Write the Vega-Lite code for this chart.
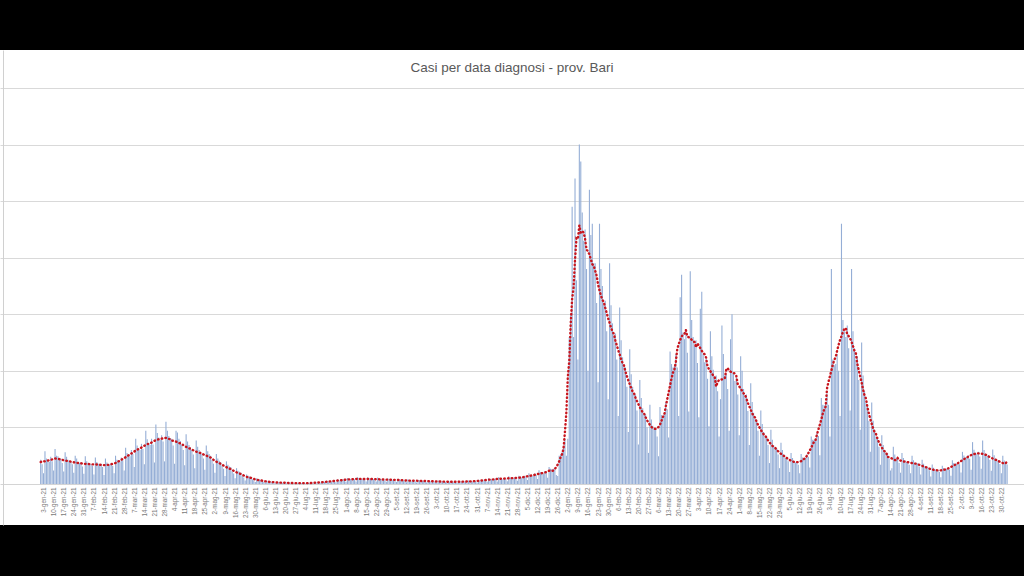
{
"$schema": "https://vega.github.io/schema/vega-lite/v6.json",
"width": 1024, "height": 475,
"autosize": {"type": "none"},
"padding": {"left": 0, "right": 0, "top": 50, "bottom": 51},
"background": "black",
"title": {"text": "Casi per data diagnosi - prov. Bari", "font": "Liberation Sans", "fontSize": 13.5, "fontWeight": "normal", "color": "#595959", "anchor": "middle", "frame": "group", "baseline": "middle", "offset": 0, "dy": 31},
"config": {
 "view": {"fill": "white", "stroke": null},
 "locale": {"time": {"dateTime": "%A %e %B %Y, %X", "date": "%d/%m/%Y", "time": "%H:%M:%S", "periods": ["AM", "PM"], "days": ["Domenica", "Lunedì", "Martedì", "Mercoledì", "Giovedì", "Venerdì", "Sabato"], "shortDays": ["Dom", "Lun", "Mar", "Mer", "Gio", "Ven", "Sab"], "months": ["Gennaio", "Febbraio", "Marzo", "Aprile", "Maggio", "Giugno", "Luglio", "Agosto", "Settembre", "Ottobre", "Novembre", "Dicembre"], "shortMonths": ["gen", "feb", "mar", "apr", "mag", "giu", "lug", "ago", "set", "ott", "nov", "dic"]}}
},
"data": {"values": [
{"d":"2021-01-01","v":215},{"d":"2021-01-02","v":175},{"d":"2021-01-03","v":95},{"d":"2021-01-04","v":290},{"d":"2021-01-05","v":225},{"d":"2021-01-06","v":205},{"d":"2021-01-07","v":195},{"d":"2021-01-08","v":240},{"d":"2021-01-09","v":200},{"d":"2021-01-10","v":120},{"d":"2021-01-11","v":310},{"d":"2021-01-12","v":250},{"d":"2021-01-13","v":245},{"d":"2021-01-14","v":215},{"d":"2021-01-15","v":225},{"d":"2021-01-16","v":185},{"d":"2021-01-17","v":110},{"d":"2021-01-18","v":280},{"d":"2021-01-19","v":240},{"d":"2021-01-20","v":215},{"d":"2021-01-21","v":205},{"d":"2021-01-22","v":195},{"d":"2021-01-23","v":175},{"d":"2021-01-24","v":100},{"d":"2021-01-25","v":250},{"d":"2021-01-26","v":225},{"d":"2021-01-27","v":195},{"d":"2021-01-28","v":185},{"d":"2021-01-29","v":190},{"d":"2021-01-30","v":155},{"d":"2021-01-31","v":90},
{"d":"2021-02-01","v":245},{"d":"2021-02-02","v":200},{"d":"2021-02-03","v":185},{"d":"2021-02-04","v":180},{"d":"2021-02-05","v":175},{"d":"2021-02-06","v":160},{"d":"2021-02-07","v":85},{"d":"2021-02-08","v":235},{"d":"2021-02-09","v":195},{"d":"2021-02-10","v":180},{"d":"2021-02-11","v":170},{"d":"2021-02-12","v":180},{"d":"2021-02-13","v":150},{"d":"2021-02-14","v":80},{"d":"2021-02-15","v":225},{"d":"2021-02-16","v":190},{"d":"2021-02-17","v":175},{"d":"2021-02-18","v":170},{"d":"2021-02-19","v":185},{"d":"2021-02-20","v":160},{"d":"2021-02-21","v":95},{"d":"2021-02-22","v":250},{"d":"2021-02-23","v":215},{"d":"2021-02-24","v":200},{"d":"2021-02-25","v":195},{"d":"2021-02-26","v":235},{"d":"2021-02-27","v":210},{"d":"2021-02-28","v":120},
{"d":"2021-03-01","v":320},{"d":"2021-03-02","v":275},{"d":"2021-03-03","v":250},{"d":"2021-03-04","v":245},{"d":"2021-03-05","v":300},{"d":"2021-03-06","v":265},{"d":"2021-03-07","v":150},{"d":"2021-03-08","v":400},{"d":"2021-03-09","v":340},{"d":"2021-03-10","v":310},{"d":"2021-03-11","v":300},{"d":"2021-03-12","v":355},{"d":"2021-03-13","v":310},{"d":"2021-03-14","v":175},{"d":"2021-03-15","v":470},{"d":"2021-03-16","v":395},{"d":"2021-03-17","v":360},{"d":"2021-03-18","v":345},{"d":"2021-03-19","v":400},{"d":"2021-03-20","v":350},{"d":"2021-03-21","v":190},{"d":"2021-03-22","v":525},{"d":"2021-03-23","v":450},{"d":"2021-03-24","v":410},{"d":"2021-03-25","v":390},{"d":"2021-03-26","v":430},{"d":"2021-03-27","v":375},{"d":"2021-03-28","v":200},{"d":"2021-03-29","v":550},{"d":"2021-03-30","v":470},{"d":"2021-03-31","v":425},
{"d":"2021-04-01","v":405},{"d":"2021-04-02","v":400},{"d":"2021-04-03","v":340},{"d":"2021-04-04","v":180},{"d":"2021-04-05","v":470},{"d":"2021-04-06","v":455},{"d":"2021-04-07","v":400},{"d":"2021-04-08","v":380},{"d":"2021-04-09","v":345},{"d":"2021-04-10","v":300},{"d":"2021-04-11","v":165},{"d":"2021-04-12","v":440},{"d":"2021-04-13","v":375},{"d":"2021-04-14","v":345},{"d":"2021-04-15","v":325},{"d":"2021-04-16","v":300},{"d":"2021-04-17","v":260},{"d":"2021-04-18","v":140},{"d":"2021-04-19","v":385},{"d":"2021-04-20","v":330},{"d":"2021-04-21","v":300},{"d":"2021-04-22","v":285},{"d":"2021-04-23","v":265},{"d":"2021-04-24","v":225},{"d":"2021-04-25","v":125},{"d":"2021-04-26","v":340},{"d":"2021-04-27","v":290},{"d":"2021-04-28","v":265},{"d":"2021-04-29","v":250},{"d":"2021-04-30","v":215},
{"d":"2021-05-01","v":180},{"d":"2021-05-02","v":100},{"d":"2021-05-03","v":265},{"d":"2021-05-04","v":225},{"d":"2021-05-05","v":205},{"d":"2021-05-06","v":195},{"d":"2021-05-07","v":160},{"d":"2021-05-08","v":135},{"d":"2021-05-09","v":70},{"d":"2021-05-10","v":200},{"d":"2021-05-11","v":170},{"d":"2021-05-12","v":155},{"d":"2021-05-13","v":150},{"d":"2021-05-14","v":112},{"d":"2021-05-15","v":93},{"d":"2021-05-16","v":50},{"d":"2021-05-17","v":140},{"d":"2021-05-18","v":118},{"d":"2021-05-19","v":108},{"d":"2021-05-20","v":100},{"d":"2021-05-21","v":70},{"d":"2021-05-22","v":58},{"d":"2021-05-23","v":30},{"d":"2021-05-24","v":85},{"d":"2021-05-25","v":74},{"d":"2021-05-26","v":66},{"d":"2021-05-27","v":62},{"d":"2021-05-28","v":42},{"d":"2021-05-29","v":33},{"d":"2021-05-30","v":18},{"d":"2021-05-31","v":50},
{"d":"2021-06-01","v":44},{"d":"2021-06-02","v":39},{"d":"2021-06-03","v":36},{"d":"2021-06-04","v":24},{"d":"2021-06-05","v":19},{"d":"2021-06-06","v":10},{"d":"2021-06-07","v":29},{"d":"2021-06-08","v":25},{"d":"2021-06-09","v":22},{"d":"2021-06-10","v":20},{"d":"2021-06-11","v":15},{"d":"2021-06-12","v":12},{"d":"2021-06-13","v":7},{"d":"2021-06-14","v":18},{"d":"2021-06-15","v":16},{"d":"2021-06-16","v":14},{"d":"2021-06-17","v":13},{"d":"2021-06-18","v":10},{"d":"2021-06-19","v":9},{"d":"2021-06-20","v":5},{"d":"2021-06-21","v":13},{"d":"2021-06-22","v":12},{"d":"2021-06-23","v":10},{"d":"2021-06-24","v":9},{"d":"2021-06-25","v":8},{"d":"2021-06-26","v":7},{"d":"2021-06-27","v":4},{"d":"2021-06-28","v":11},{"d":"2021-06-29","v":9},{"d":"2021-06-30","v":8},
{"d":"2021-07-01","v":8},{"d":"2021-07-02","v":9},{"d":"2021-07-03","v":7},{"d":"2021-07-04","v":4},{"d":"2021-07-05","v":10},{"d":"2021-07-06","v":9},{"d":"2021-07-07","v":8},{"d":"2021-07-08","v":8},{"d":"2021-07-09","v":12},{"d":"2021-07-10","v":11},{"d":"2021-07-11","v":6},{"d":"2021-07-12","v":16},{"d":"2021-07-13","v":14},{"d":"2021-07-14","v":13},{"d":"2021-07-15","v":13},{"d":"2021-07-16","v":21},{"d":"2021-07-17","v":18},{"d":"2021-07-18","v":10},{"d":"2021-07-19","v":27},{"d":"2021-07-20","v":23},{"d":"2021-07-21","v":21},{"d":"2021-07-22","v":20},{"d":"2021-07-23","v":32},{"d":"2021-07-24","v":27},{"d":"2021-07-25","v":15},{"d":"2021-07-26","v":41},{"d":"2021-07-27","v":35},{"d":"2021-07-28","v":32},{"d":"2021-07-29","v":30},{"d":"2021-07-30","v":42},{"d":"2021-07-31","v":36},
{"d":"2021-08-01","v":20},{"d":"2021-08-02","v":54},{"d":"2021-08-03","v":46},{"d":"2021-08-04","v":42},{"d":"2021-08-05","v":40},{"d":"2021-08-06","v":47},{"d":"2021-08-07","v":41},{"d":"2021-08-08","v":23},{"d":"2021-08-09","v":61},{"d":"2021-08-10","v":52},{"d":"2021-08-11","v":47},{"d":"2021-08-12","v":45},{"d":"2021-08-13","v":48},{"d":"2021-08-14","v":40},{"d":"2021-08-15","v":22},{"d":"2021-08-16","v":60},{"d":"2021-08-17","v":51},{"d":"2021-08-18","v":48},{"d":"2021-08-19","v":44},{"d":"2021-08-20","v":44},{"d":"2021-08-21","v":38},{"d":"2021-08-22","v":21},{"d":"2021-08-23","v":57},{"d":"2021-08-24","v":48},{"d":"2021-08-25","v":44},{"d":"2021-08-26","v":42},{"d":"2021-08-27","v":40},{"d":"2021-08-28","v":34},{"d":"2021-08-29","v":19},{"d":"2021-08-30","v":51},{"d":"2021-08-31","v":44},
{"d":"2021-09-01","v":40},{"d":"2021-09-02","v":38},{"d":"2021-09-03","v":37},{"d":"2021-09-04","v":32},{"d":"2021-09-05","v":18},{"d":"2021-09-06","v":47},{"d":"2021-09-07","v":40},{"d":"2021-09-08","v":37},{"d":"2021-09-09","v":35},{"d":"2021-09-10","v":32},{"d":"2021-09-11","v":27},{"d":"2021-09-12","v":15},{"d":"2021-09-13","v":41},{"d":"2021-09-14","v":35},{"d":"2021-09-15","v":32},{"d":"2021-09-16","v":30},{"d":"2021-09-17","v":29},{"d":"2021-09-18","v":25},{"d":"2021-09-19","v":14},{"d":"2021-09-20","v":38},{"d":"2021-09-21","v":32},{"d":"2021-09-22","v":29},{"d":"2021-09-23","v":28},{"d":"2021-09-24","v":26},{"d":"2021-09-25","v":23},{"d":"2021-09-26","v":13},{"d":"2021-09-27","v":34},{"d":"2021-09-28","v":29},{"d":"2021-09-29","v":26},{"d":"2021-09-30","v":25},
{"d":"2021-10-01","v":23},{"d":"2021-10-02","v":20},{"d":"2021-10-03","v":11},{"d":"2021-10-04","v":30},{"d":"2021-10-05","v":25},{"d":"2021-10-06","v":23},{"d":"2021-10-07","v":22},{"d":"2021-10-08","v":21},{"d":"2021-10-09","v":18},{"d":"2021-10-10","v":10},{"d":"2021-10-11","v":27},{"d":"2021-10-12","v":23},{"d":"2021-10-13","v":21},{"d":"2021-10-14","v":20},{"d":"2021-10-15","v":20},{"d":"2021-10-16","v":19},{"d":"2021-10-17","v":10},{"d":"2021-10-18","v":28},{"d":"2021-10-19","v":22},{"d":"2021-10-20","v":21},{"d":"2021-10-21","v":21},{"d":"2021-10-22","v":23},{"d":"2021-10-23","v":20},{"d":"2021-10-24","v":11},{"d":"2021-10-25","v":30},{"d":"2021-10-26","v":25},{"d":"2021-10-27","v":23},{"d":"2021-10-28","v":22},{"d":"2021-10-29","v":29},{"d":"2021-10-30","v":25},{"d":"2021-10-31","v":14},
{"d":"2021-11-01","v":38},{"d":"2021-11-02","v":32},{"d":"2021-11-03","v":29},{"d":"2021-11-04","v":28},{"d":"2021-11-05","v":40},{"d":"2021-11-06","v":34},{"d":"2021-11-07","v":19},{"d":"2021-11-08","v":51},{"d":"2021-11-09","v":44},{"d":"2021-11-10","v":40},{"d":"2021-11-11","v":38},{"d":"2021-11-12","v":47},{"d":"2021-11-13","v":41},{"d":"2021-11-14","v":23},{"d":"2021-11-15","v":61},{"d":"2021-11-16","v":52},{"d":"2021-11-17","v":47},{"d":"2021-11-18","v":45},{"d":"2021-11-19","v":53},{"d":"2021-11-20","v":45},{"d":"2021-11-21","v":25},{"d":"2021-11-22","v":68},{"d":"2021-11-23","v":58},{"d":"2021-11-24","v":53},{"d":"2021-11-25","v":50},{"d":"2021-11-26","v":58},{"d":"2021-11-27","v":50},{"d":"2021-11-28","v":28},{"d":"2021-11-29","v":74},{"d":"2021-11-30","v":63},
{"d":"2021-12-01","v":58},{"d":"2021-12-02","v":55},{"d":"2021-12-03","v":74},{"d":"2021-12-04","v":63},{"d":"2021-12-05","v":35},{"d":"2021-12-06","v":95},{"d":"2021-12-07","v":81},{"d":"2021-12-08","v":74},{"d":"2021-12-09","v":70},{"d":"2021-12-10","v":95},{"d":"2021-12-11","v":81},{"d":"2021-12-12","v":45},{"d":"2021-12-13","v":122},{"d":"2021-12-14","v":104},{"d":"2021-12-15","v":95},{"d":"2021-12-16","v":90},{"d":"2021-12-17","v":115},{"d":"2021-12-18","v":100},{"d":"2021-12-19","v":55},{"d":"2021-12-20","v":150},{"d":"2021-12-21","v":135},{"d":"2021-12-22","v":130},{"d":"2021-12-23","v":135},{"d":"2021-12-24","v":130},{"d":"2021-12-25","v":80},{"d":"2021-12-26","v":70},{"d":"2021-12-27","v":250},{"d":"2021-12-28","v":260},{"d":"2021-12-29","v":280},{"d":"2021-12-30","v":330},{"d":"2021-12-31","v":400},
{"d":"2022-01-01","v":250},{"d":"2022-01-02","v":400},{"d":"2022-01-03","v":1300},{"d":"2022-01-04","v":1500},{"d":"2022-01-05","v":2450},{"d":"2022-01-06","v":1300},{"d":"2022-01-07","v":2700},{"d":"2022-01-08","v":1800},{"d":"2022-01-09","v":1100},{"d":"2022-01-10","v":3000},{"d":"2022-01-11","v":2850},{"d":"2022-01-12","v":2400},{"d":"2022-01-13","v":2150},{"d":"2022-01-14","v":2250},{"d":"2022-01-15","v":1900},{"d":"2022-01-16","v":1000},{"d":"2022-01-17","v":2600},{"d":"2022-01-18","v":2200},{"d":"2022-01-19","v":2300},{"d":"2022-01-20","v":1950},{"d":"2022-01-21","v":1950},{"d":"2022-01-22","v":1600},{"d":"2022-01-23","v":900},{"d":"2022-01-24","v":2300},{"d":"2022-01-25","v":1900},{"d":"2022-01-26","v":1750},{"d":"2022-01-27","v":1580},{"d":"2022-01-28","v":1620},{"d":"2022-01-29","v":1350},{"d":"2022-01-30","v":750},{"d":"2022-01-31","v":1950},
{"d":"2022-02-01","v":1580},{"d":"2022-02-02","v":1420},{"d":"2022-02-03","v":1300},{"d":"2022-02-04","v":1330},{"d":"2022-02-05","v":1100},{"d":"2022-02-06","v":600},{"d":"2022-02-07","v":1560},{"d":"2022-02-08","v":1270},{"d":"2022-02-09","v":1120},{"d":"2022-02-10","v":1040},{"d":"2022-02-11","v":1030},{"d":"2022-02-12","v":860},{"d":"2022-02-13","v":460},{"d":"2022-02-14","v":1190},{"d":"2022-02-15","v":970},{"d":"2022-02-16","v":860},{"d":"2022-02-17","v":800},{"d":"2022-02-18","v":790},{"d":"2022-02-19","v":650},{"d":"2022-02-20","v":350},{"d":"2022-02-21","v":920},{"d":"2022-02-22","v":760},{"d":"2022-02-23","v":670},{"d":"2022-02-24","v":615},{"d":"2022-02-25","v":615},{"d":"2022-02-26","v":500},{"d":"2022-02-27","v":275},{"d":"2022-02-28","v":700},
{"d":"2022-03-01","v":570},{"d":"2022-03-02","v":515},{"d":"2022-03-03","v":485},{"d":"2022-03-04","v":490},{"d":"2022-03-05","v":420},{"d":"2022-03-06","v":245},{"d":"2022-03-07","v":680},{"d":"2022-03-08","v":610},{"d":"2022-03-09","v":600},{"d":"2022-03-10","v":625},{"d":"2022-03-11","v":720},{"d":"2022-03-12","v":660},{"d":"2022-03-13","v":410},{"d":"2022-03-14","v":1170},{"d":"2022-03-15","v":1060},{"d":"2022-03-16","v":1030},{"d":"2022-03-17","v":1045},{"d":"2022-03-18","v":1150},{"d":"2022-03-19","v":1030},{"d":"2022-03-20","v":600},{"d":"2022-03-21","v":1650},{"d":"2022-03-22","v":1850},{"d":"2022-03-23","v":1340},{"d":"2022-03-24","v":1280},{"d":"2022-03-25","v":1370},{"d":"2022-03-26","v":1160},{"d":"2022-03-27","v":640},{"d":"2022-03-28","v":1880},{"d":"2022-03-29","v":1450},{"d":"2022-03-30","v":1300},{"d":"2022-03-31","v":1220},
{"d":"2022-04-01","v":1270},{"d":"2022-04-02","v":1070},{"d":"2022-04-03","v":590},{"d":"2022-04-04","v":1550},{"d":"2022-04-05","v":1700},{"d":"2022-04-06","v":1150},{"d":"2022-04-07","v":1075},{"d":"2022-04-08","v":1110},{"d":"2022-04-09","v":930},{"d":"2022-04-10","v":510},{"d":"2022-04-11","v":1350},{"d":"2022-04-12","v":1130},{"d":"2022-04-13","v":1010},{"d":"2022-04-14","v":940},{"d":"2022-04-15","v":960},{"d":"2022-04-16","v":820},{"d":"2022-04-17","v":420},{"d":"2022-04-18","v":750},{"d":"2022-04-19","v":1400},{"d":"2022-04-20","v":1150},{"d":"2022-04-21","v":960},{"d":"2022-04-22","v":970},{"d":"2022-04-23","v":840},{"d":"2022-04-24","v":470},{"d":"2022-04-25","v":1280},{"d":"2022-04-26","v":1500},{"d":"2022-04-27","v":980},{"d":"2022-04-28","v":910},{"d":"2022-04-29","v":940},{"d":"2022-04-30","v":790},
{"d":"2022-05-01","v":430},{"d":"2022-05-02","v":1130},{"d":"2022-05-03","v":1000},{"d":"2022-05-04","v":840},{"d":"2022-05-05","v":780},{"d":"2022-05-06","v":790},{"d":"2022-05-07","v":645},{"d":"2022-05-08","v":345},{"d":"2022-05-09","v":890},{"d":"2022-05-10","v":725},{"d":"2022-05-11","v":630},{"d":"2022-05-12","v":575},{"d":"2022-05-13","v":570},{"d":"2022-05-14","v":470},{"d":"2022-05-15","v":250},{"d":"2022-05-16","v":650},{"d":"2022-05-17","v":530},{"d":"2022-05-18","v":460},{"d":"2022-05-19","v":420},{"d":"2022-05-20","v":420},{"d":"2022-05-21","v":345},{"d":"2022-05-22","v":185},{"d":"2022-05-23","v":480},{"d":"2022-05-24","v":390},{"d":"2022-05-25","v":340},{"d":"2022-05-26","v":310},{"d":"2022-05-27","v":315},{"d":"2022-05-28","v":260},{"d":"2022-05-29","v":140},{"d":"2022-05-30","v":365},{"d":"2022-05-31","v":300},
{"d":"2022-06-01","v":260},{"d":"2022-06-02","v":230},{"d":"2022-06-03","v":240},{"d":"2022-06-04","v":200},{"d":"2022-06-05","v":105},{"d":"2022-06-06","v":275},{"d":"2022-06-07","v":230},{"d":"2022-06-08","v":205},{"d":"2022-06-09","v":190},{"d":"2022-06-10","v":195},{"d":"2022-06-11","v":170},{"d":"2022-06-12","v":95},{"d":"2022-06-13","v":265},{"d":"2022-06-14","v":235},{"d":"2022-06-15","v":225},{"d":"2022-06-16","v":230},{"d":"2022-06-17","v":260},{"d":"2022-06-18","v":240},{"d":"2022-06-19","v":145},{"d":"2022-06-20","v":420},{"d":"2022-06-21","v":390},{"d":"2022-06-22","v":390},{"d":"2022-06-23","v":400},{"d":"2022-06-24","v":450},{"d":"2022-06-25","v":425},{"d":"2022-06-26","v":255},{"d":"2022-06-27","v":760},{"d":"2022-06-28","v":700},{"d":"2022-06-29","v":695},{"d":"2022-06-30","v":710},
{"d":"2022-07-01","v":800},{"d":"2022-07-02","v":700},{"d":"2022-07-03","v":420},{"d":"2022-07-04","v":1900},{"d":"2022-07-05","v":1100},{"d":"2022-07-06","v":1050},{"d":"2022-07-07","v":1060},{"d":"2022-07-08","v":1150},{"d":"2022-07-09","v":1000},{"d":"2022-07-10","v":600},{"d":"2022-07-11","v":2300},{"d":"2022-07-12","v":1450},{"d":"2022-07-13","v":1350},{"d":"2022-07-14","v":1300},{"d":"2022-07-15","v":1400},{"d":"2022-07-16","v":1200},{"d":"2022-07-17","v":650},{"d":"2022-07-18","v":1900},{"d":"2022-07-19","v":1350},{"d":"2022-07-20","v":1200},{"d":"2022-07-21","v":1100},{"d":"2022-07-22","v":1130},{"d":"2022-07-23","v":920},{"d":"2022-07-24","v":480},{"d":"2022-07-25","v":1250},{"d":"2022-07-26","v":960},{"d":"2022-07-27","v":820},{"d":"2022-07-28","v":720},{"d":"2022-07-29","v":700},{"d":"2022-07-30","v":560},{"d":"2022-07-31","v":285},
{"d":"2022-08-01","v":720},{"d":"2022-08-02","v":560},{"d":"2022-08-03","v":480},{"d":"2022-08-04","v":420},{"d":"2022-08-05","v":410},{"d":"2022-08-06","v":330},{"d":"2022-08-07","v":170},{"d":"2022-08-08","v":430},{"d":"2022-08-09","v":345},{"d":"2022-08-10","v":300},{"d":"2022-08-11","v":270},{"d":"2022-08-12","v":275},{"d":"2022-08-13","v":225},{"d":"2022-08-14","v":120},{"d":"2022-08-15","v":140},{"d":"2022-08-16","v":330},{"d":"2022-08-17","v":260},{"d":"2022-08-18","v":230},{"d":"2022-08-19","v":220},{"d":"2022-08-20","v":185},{"d":"2022-08-21","v":100},{"d":"2022-08-22","v":275},{"d":"2022-08-23","v":230},{"d":"2022-08-24","v":210},{"d":"2022-08-25","v":195},{"d":"2022-08-26","v":200},{"d":"2022-08-27","v":170},{"d":"2022-08-28","v":95},{"d":"2022-08-29","v":250},{"d":"2022-08-30","v":210},{"d":"2022-08-31","v":190},
{"d":"2022-09-01","v":178},{"d":"2022-09-02","v":185},{"d":"2022-09-03","v":155},{"d":"2022-09-04","v":85},{"d":"2022-09-05","v":215},{"d":"2022-09-06","v":178},{"d":"2022-09-07","v":158},{"d":"2022-09-08","v":145},{"d":"2022-09-09","v":148},{"d":"2022-09-10","v":122},{"d":"2022-09-11","v":66},{"d":"2022-09-12","v":172},{"d":"2022-09-13","v":144},{"d":"2022-09-14","v":128},{"d":"2022-09-15","v":120},{"d":"2022-09-16","v":124},{"d":"2022-09-17","v":105},{"d":"2022-09-18","v":59},{"d":"2022-09-19","v":162},{"d":"2022-09-20","v":141},{"d":"2022-09-21","v":133},{"d":"2022-09-22","v":132},{"d":"2022-09-23","v":144},{"d":"2022-09-24","v":128},{"d":"2022-09-25","v":74},{"d":"2022-09-26","v":209},{"d":"2022-09-27","v":186},{"d":"2022-09-28","v":179},{"d":"2022-09-29","v":178},{"d":"2022-09-30","v":195},
{"d":"2022-10-01","v":175},{"d":"2022-10-02","v":101},{"d":"2022-10-03","v":284},{"d":"2022-10-04","v":251},{"d":"2022-10-05","v":237},{"d":"2022-10-06","v":234},{"d":"2022-10-07","v":254},{"d":"2022-10-08","v":223},{"d":"2022-10-09","v":127},{"d":"2022-10-10","v":370},{"d":"2022-10-11","v":302},{"d":"2022-10-12","v":279},{"d":"2022-10-13","v":268},{"d":"2022-10-14","v":284},{"d":"2022-10-15","v":243},{"d":"2022-10-16","v":134},{"d":"2022-10-17","v":385},{"d":"2022-10-18","v":300},{"d":"2022-10-19","v":269},{"d":"2022-10-20","v":250},{"d":"2022-10-21","v":256},{"d":"2022-10-22","v":214},{"d":"2022-10-23","v":116},{"d":"2022-10-24","v":305},{"d":"2022-10-25","v":253},{"d":"2022-10-26","v":225},{"d":"2022-10-27","v":208},{"d":"2022-10-28","v":212},{"d":"2022-10-29","v":176},{"d":"2022-10-30","v":95},{"d":"2022-10-31","v":250},
{"d":"2022-11-01","v":207},{"d":"2022-11-02","v":185},{"d":"2022-11-03","v":172}
]},
"transform": [{"window": [{"op": "mean", "field": "v", "as": "m"}], "frame": [-3, 3], "sort": [{"field": "d"}]}],
"encoding": {
 "x": {"field": "d", "type": "temporal",
  "scale": {"type": "utc", "domain": [{"year": 2020, "month": 12, "date": 7, "hours": 6, "utc": true}, {"year": 2022, "month": 11, "date": 11, "hours": 6, "utc": true}]},
  "axis": {"orient": "bottom", "offset": -41, "title": null, "domainColor": "#d4d4d4", "domainWidth": 1, "ticks": false, "grid": false, "labelAngle": -90, "labelFont": "Liberation Sans", "labelFontSize": 6.3, "labelColor": "#7a7a7a", "labelOverlap": false, "labelPadding": 3, "labelFlush": false, "tickCount": {"interval": "week", "step": 1}, "labelExpr": "(datum.value < utc(2020,11,31) || datum.value > utc(2022,10,1)) ? '' : utcFormat(datum.value, '%-d-%b-%y')"}}
},
"layer": [
 {"mark": {"type": "bar", "color": "#95aed6", "size": 1.1},
  "encoding": {
   "y": {"field": "v", "type": "quantitative", "scale": {"domain": [-362.4, 3835.9], "nice": false, "zero": false},
    "axis": {"title": null, "values": [500, 1000, 1500, 2000, 2500, 3000, 3500], "grid": true, "gridColor": "#d9d9d9", "gridWidth": 1.2, "labels": false, "ticks": false, "domain": true, "domainColor": "#d0d0d0", "offset": -3}},
   "y2": {"datum": 0}}},
 {"mark": {"type": "line", "color": "#c8161e", "strokeWidth": 2.4, "strokeDash": [0.5, 3.3], "strokeCap": "round"},
  "encoding": {
   "y": {"field": "m", "type": "quantitative", "scale": {"domain": [-362.4, 3835.9], "nice": false, "zero": false},
    "axis": {"title": null, "values": [500, 1000, 1500, 2000, 2500, 3000, 3500], "grid": true, "gridColor": "#d9d9d9", "gridWidth": 1.2, "labels": false, "ticks": false, "domain": true, "domainColor": "#d0d0d0", "offset": -3}}}}
]
}
